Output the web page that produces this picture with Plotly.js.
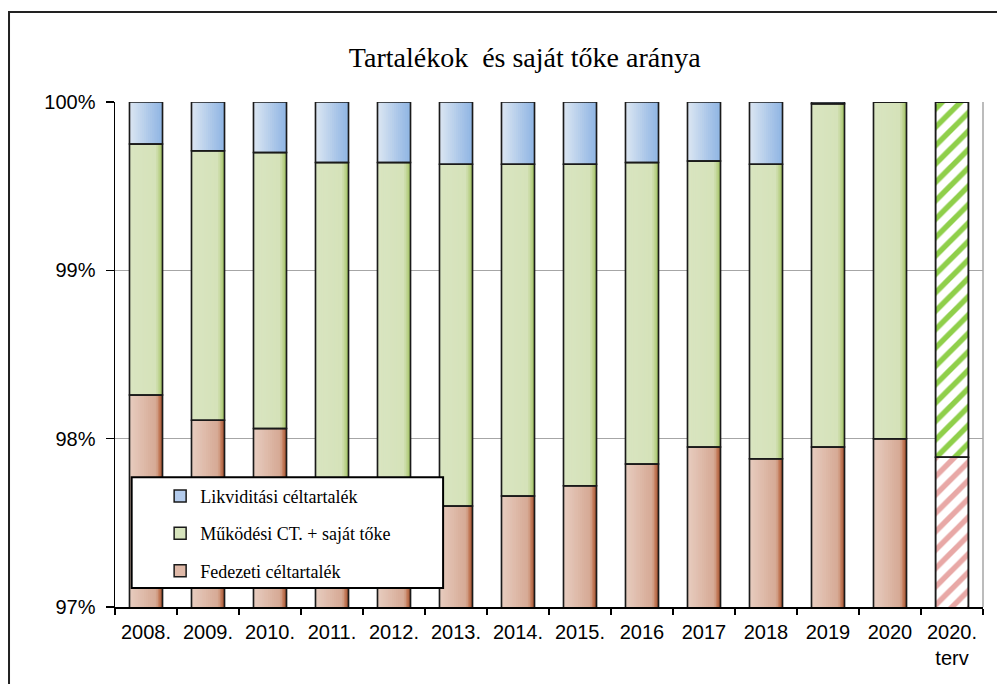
<!DOCTYPE html>
<html><head><meta charset="utf-8">
<script src="https://cdn.plot.ly/plotly-3.0.1.min.js"></script>
<style>html,body{margin:0;padding:0;background:#fff}</style>
</head><body><div id="chart" style="width:997px;height:684px"></div>
<script>
// ---- data (percent shares) ----
const categories = ['2008.', '2009.', '2010.', '2011.', '2012.', '2013.', '2014.', '2015.', '2016', '2017', '2018', '2019', '2020', '2020.<br>terv'];
const fedezeti    = [98.26, 98.11, 98.06, 97.55, 97.58, 97.60, 97.66, 97.72, 97.85, 97.95, 97.88, 97.95, 98.00, 97.89];
const mukodesi    = [1.49, 1.60, 1.64, 2.09, 2.06, 2.03, 1.97, 1.91, 1.79, 1.70, 1.75, 2.04, 2.00, 2.11];
const likviditasi = [0.25, 0.29, 0.30, 0.36, 0.36, 0.37, 0.37, 0.37, 0.36, 0.35, 0.37, 0.01, 0.00, 0.00];
const seriesNames = ['Fedezeti céltartalék', 'Működési CT. + saját tőke', 'Likviditási céltartalék'];
const yTickVals = [97, 98, 99, 100];

const n = categories.length;
const last = n - 1;
const baseFed = fedezeti.map(() => 0);
const baseMuk = fedezeti.slice();
const baseLik = fedezeti.map((v, i) => v + mukodesi[i]);

const BW = 0.53;
const NSTRIP = 16;

const series = [
  {name: seriesNames[0], y: fedezeti, base: baseFed, mid: '#dfb9a8', rank: 3,
   stops: [[0, '#e8cdc0'], [0.82, '#d5a893'], [0.9, '#c27a58'], [1, '#9a4623']], hatch: '#e8a8a6', grp: 'g1'},
  {name: seriesNames[1], y: mukodesi, base: baseMuk, mid: '#d7e4bd', rank: 2,
   stops: [[0, '#d9e5c1'], [0.8, '#d5e2b9'], [0.9, '#bcd38e'], [1, '#98ba55']], hatch: '#8fcf4a', grp: 'g2'},
  {name: seriesNames[2], y: likviditasi, base: baseLik, mid: '#b3cbec', rank: 1,
   stops: [[0, '#dde7f3'], [1, '#8cb3e2']], hatch: '#8cb3e2', grp: 'g3'}
];

function hex2rgb(h) { return [1, 3, 5].map(k => parseInt(h.substr(k, 2), 16)); }
function interp(stops, t) {
  for (let k = 0; k < stops.length - 1; k++) {
    const [t0, c0] = stops[k], [t1, c1] = stops[k + 1];
    if (t >= t0 && t <= t1) {
      const f = (t - t0) / (t1 - t0 || 1);
      const a = hex2rgb(c0), b = hex2rgb(c1);
      const r = a.map((v, j) => Math.round(v + (b[j] - v) * f));
      return 'rgb(' + r.join(',') + ')';
    }
  }
  return stops[stops.length - 1][1];
}

const traces = [];
const outlines = [];
series.forEach(s => {
  // main (legend) trace; the plan bar is hatched
  traces.push({
    type: 'bar', x: categories, y: s.y, base: s.base, name: s.name,
    legendgroup: s.grp, legendrank: s.rank, width: BW, offset: -BW / 2,
    marker: {
      color: s.mid,
      line: {color: '#1a1a1a', width: 1.5},
      pattern: {
        shape: categories.map((c, i) => i === last ? '/' : ''),
        fgcolor: s.hatch, bgcolor: '#ffffff',
        fgopacity: 1, size: 13, solidity: 0.42, fillmode: 'replace'
      }
    },
    hoverinfo: 'skip'
  });
  // gradient strips
  for (let k = 0; k < NSTRIP; k++) {
    const t = (k + 0.5) / NSTRIP;
    traces.push({
      type: 'bar', x: categories,
      y: s.y.map((v, i) => i === last ? null : v),
      base: s.base, showlegend: false,
      width: BW / NSTRIP * 1.15, offset: -BW / 2 + k * BW / NSTRIP,
      marker: {color: interp(s.stops, t), line: {width: 0}},
      hoverinfo: 'skip'
    });
  }
  outlines.push({
    type: 'bar', x: categories, y: s.y, base: s.base, showlegend: false,
    width: BW, offset: -BW / 2,
    marker: {color: 'rgba(0,0,0,0)', line: {color: '#1a1a1a', width: 1.5}},
    hoverinfo: 'skip'
  });
});

const layout = {
  width: 997, height: 684,
  margin: {l: 115, r: 14, t: 102, b: 77},
  paper_bgcolor: '#ffffff', plot_bgcolor: '#ffffff',
  barmode: 'overlay',
  title: {
    text: 'Tartalékok\u00a0 és saját tőke aránya',
    x: 0.472, xref: 'paper', xanchor: 'center',
    y: 1 - 57 / 684, yref: 'container', yanchor: 'middle',
    font: {family: 'Liberation Serif', size: 28, color: '#000'}
  },
  xaxis: {
    type: 'category', showline: true, linecolor: '#000', linewidth: 1.5,
    ticks: 'outside', tickson: 'boundaries', ticklen: 6, tickcolor: '#000', tickwidth: 1.5,
    showgrid: false, ticklabelstandoff: 6,
    tickfont: {family: 'Liberation Sans', size: 20, color: '#000'}
  },
  yaxis: {
    range: [97, 100], tickvals: yTickVals, ticktext: yTickVals.map(v => v + '%'),
    showline: true, linecolor: '#000', linewidth: 1.5,
    ticks: 'outside', ticklen: 8, tickcolor: '#000', tickwidth: 1.5,
    showgrid: true, gridcolor: '#a6a6a6', gridwidth: 1.2, zeroline: false,
    ticklabelstandoff: 6,
    tickfont: {family: 'Liberation Sans', size: 20, color: '#000'}
  },
  legend: {
    x: 0.052, xanchor: 'left', y: 0.256, yanchor: 'top',
    bgcolor: 'rgba(0,0,0,0)', borderwidth: 0,
    traceorder: 'grouped', tracegroupgap: 11,
    font: {family: 'Liberation Serif', size: 18, color: '#000'}
  },
  shapes: [
    // outer chart frame
    {type: 'path', xref: 'paper', yref: 'paper',
     path: 'M -0.1221,-0.3 L -0.1221,1.1782 L 1.1,1.1782',
     line: {color: '#222', width: 2}},
    // right plot border
    {type: 'line', xref: 'paper', yref: 'paper', x0: 1, x1: 1, y0: 0, y1: 1,
     line: {color: '#a6a6a6', width: 1.5}},
    // legend box
    {type: 'rect', xref: 'paper', yref: 'paper', x0: 0.0192, x1: 0.378, y0: 0.0376, y1: 0.257,
     fillcolor: '#ffffff', line: {color: '#000', width: 2}, layer: 'above'}
  ]
};

Plotly.newPlot('chart', traces.concat(outlines), layout, {displayModeBar: false, staticPlot: true});
</script>
</body></html>
